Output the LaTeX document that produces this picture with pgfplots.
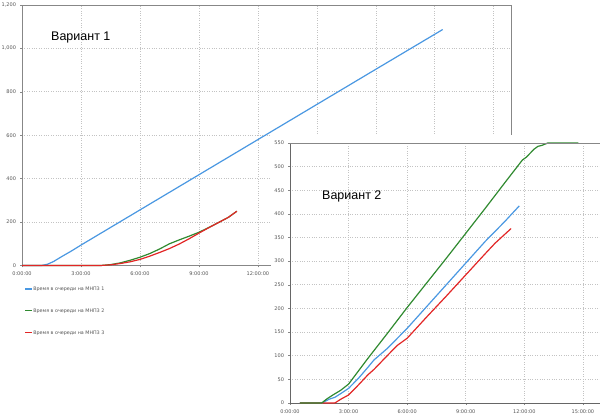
\documentclass[border=0pt]{standalone}
\usepackage{fontspec}
\setmainfont{DejaVu Sans}
\newfontfamily\arial{Liberation Sans}
\usepackage{pgfplots}
\pgfplotsset{compat=1.18}
\definecolor{cblue}{RGB}{74,152,226}
\definecolor{cgreen}{RGB}{48,138,48}
\definecolor{cred}{RGB}{226,38,38}
\definecolor{framec}{RGB}{135,135,135}
\definecolor{gridc}{RGB}{195,195,195}
\definecolor{tickc}{RGB}{85,85,85}
\newcommand{\legline}[1]{\textcolor{#1}{\rule[1.3pt]{7pt}{1.1pt}}\hspace{1.2pt}}
\pgfplotsset{myaxis/.style={
  scale only axis,
  axis line style={framec, line width=0.9pt},
  grid=major,
  major grid style={gridc, dotted, line width=0.7pt},
  tick style={framec, line width=0.5pt},
  major tick length=2pt,
  tick align=outside,
  xtick pos=lower, ytick pos=left,
  tick label style={font=\fontsize{5}{6}\selectfont, text=tickc},
  /pgf/number format/assume math mode=true,
  /pgf/number format/1000 sep={,},
  xtick={0,3,6,9,12,15,18,21,24},
  xticklabels={0:00:00,3:00:00,6:00:00,9:00:00,12:00:00,15:00:00,18:00:00,21:00:00,24:00:00},
  xticklabel style={yshift=-1pt},
  yticklabel style={xshift=-0.5pt},
  clip=false,
}}
\begin{document}
\begin{tikzpicture}[x=1pt,y=1pt]
\useasboundingbox (0,0) rectangle (600,419);
\clip (0,0) rectangle (600,419);
\fill[white] (0,0) rectangle (600,419);
% ---------- Variant 1 ----------
\begin{axis}[myaxis,
  at={(22pt,153.5pt)}, anchor=south west,
  width=489.5pt, height=260.5pt,
  xmin=0, xmax=24.9, ymin=0, ymax=1200,
  ytick={0,200,400,600,800,1000,1200},
  legend style={at={(0,0)}, anchor=north west, xshift=2.4pt, yshift=-21pt,
    draw=none, fill=none, inner sep=0pt, row sep=15.5pt, column sep=0pt,
    font=\fontsize{4.8}{5}\selectfont,
    nodes={inner sep=0.6pt}},
  legend cell align=left,
  legend image code/.code={},
]
\addplot[color=cblue, line width=1.2pt] coordinates {(0,0) (1.0,0) (1.3,6) (1.6,18) (2,40) (2.5,66) (3,94) (4,148) (6,256) (9,418) (12,580) (15,742) (18,904) (21.4,1087)};
\addlegendentry{\legline{cblue}\textcolor{tickc}{Время в очереди на МНПЗ 1}}
\addplot[color=cgreen, line width=1.2pt] coordinates {(0,0) (4.0,0) (4.5,4) (5,12) (5.5,24) (6,38) (6.5,55) (7,76) (7.5,100) (8,118) (8.5,135) (9,153) (9.5,175) (10,198) (10.5,222) (10.93,250)};
\addlegendentry{\legline{cgreen}\textcolor{tickc}{Время в очереди на МНПЗ 2}}
\addplot[color=cred, line width=1.2pt] coordinates {(0,0) (4.0,0) (4.5,3) (5,9) (5.5,17) (6,28) (6.5,43) (7,60) (7.5,78) (8,99) (8.5,123) (9,149) (9.5,174) (10,198) (10.5,222) (10.93,250)};
\addlegendentry{\legline{cred}\textcolor{tickc}{Время в очереди на МНПЗ 3}}
\end{axis}
\node[anchor=west, inner sep=0pt, font=\arial\fontsize{12.5}{14}\selectfont] at (51,381) {Вариант 1};
% ---------- panel of Variant 2 ----------
\fill[white] (271,0) rectangle (620,284);
\begin{axis}[myaxis,
  at={(290pt,16pt)}, anchor=south west,
  width=332pt, height=260pt,
  xmin=0, xmax=17, ymin=0, ymax=550,
  ytick={0,50,100,150,200,250,300,350,400,450,500,550},
  axis x line*=bottom, axis y line*=left,
  axis line style={-, draw=gray!80!black, line width=0.9pt},
]
\addplot[color=cblue, line width=1.2pt] coordinates {(0.5,0) (1.65,0) (2.0,8) (2.3,12) (2.6,20) (3,31) (3.5,52) (4,76) (4.3,91) (5,116) (5.5,137) (6,158) (7,204) (8,250) (9,296) (10,342) (10.5,363) (11,384) (11.74,417)};
\addplot[color=cred, line width=1.2pt] coordinates {(0.5,0) (2.30,0) (2.6,8) (3,17) (3.5,38) (4,60) (4.3,71) (5,101) (5.5,122) (6,137) (7,182) (8,226) (9,271) (10,316) (10.5,338) (11.32,369)};
\addplot[color=cgreen, line width=1.2pt] coordinates {(0.5,0) (1.62,0) (1.9,9) (2.2,17) (2.6,27) (3,40) (3.6,73) (4,95) (5,148) (6,202) (7,254) (8,306) (9,359) (10,412) (11,466) (11.9,514) (12.1,520) (12.5,537) (12.7,543) (12.9,545) (13.2,550) (14.76,550)};
\end{axis}
\draw[framec, line width=0.9pt] (290,276) -- (620,276);
\node[anchor=west, inner sep=0pt, font=\arial\fontsize{12.5}{14}\selectfont] at (322,223) {Вариант 2};
\end{tikzpicture}
\end{document}
